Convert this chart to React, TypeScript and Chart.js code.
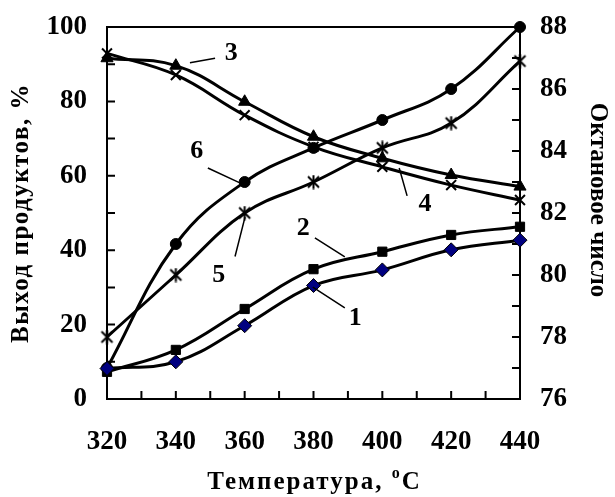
import React, { useEffect, useRef } from "react";
import { Chart, registerables } from "chart.js";

Chart.register(...registerables);

// ---- data ----
const temperatures = [320, 340, 360, 380, 400, 420, 440];
const yield1 = [8.2, 10, 19.7, 30.5, 34.7, 40.1, 42.7];
const yield2 = [7.3, 13.2, 24.2, 34.9, 39.6, 44.1, 46.3];
const yield3 = [91.6, 89.6, 79.9, 70.5, 64.7, 60.2, 57.1];
const yield4 = [92.9, 87.1, 76.3, 67.8, 62.4, 57.5, 53.5];
const octane5 = [78, 80, 82, 83, 84.1, 84.9, 86.9];
const octane6 = [77, 81, 83, 84.1, 85, 86, 88];

const yieldTicks = [0, 20, 40, 60, 80, 100];
const octaneTicks = [76, 78, 80, 82, 84, 86, 88];
const tempTicks = [320, 340, 360, 380, 400, 420, 440];

const curveLabels = ["1", "2", "3", "4", "5", "6"];
const labelAt = [
  [392.1, 21.8],
  [377, 46],
  [356.1, 92.9],
  [412.4, 52.4],
  [352.5, 33.3],
  [346.1, 66.7],
];
const leaderFrom = [
  [389.1, 24.5],
  [380.4, 43.3],
  [344.1, 90.4],
  [407.2, 54.6],
  [357.2, 38.3],
  [349.3, 62.1],
];
const leaderTo = [
  [379.8, 30.1],
  [389.1, 38.2],
  [351.4, 91.6],
  [404.9, 62.1],
  [360.1, 48.9],
  [358.6, 58.1],
];

const xTitle = "Температура, ";
const yTitle = "Выход продуктов, %";
const y2Title = "Октановое число";

const FONT = "'Liberation Serif', 'Times New Roman', serif";

function makeStar(): HTMLCanvasElement {
  const c = document.createElement("canvas");
  c.width = 15;
  c.height = 15;
  const g = c.getContext("2d")!;
  g.strokeStyle = "#000";
  g.lineWidth = 2;
  g.beginPath();
  g.moveTo(2, 2);
  g.lineTo(13, 13);
  g.moveTo(13, 2);
  g.lineTo(2, 13);
  g.moveTo(7.5, 0.5);
  g.lineTo(7.5, 14.5);
  g.stroke();
  return c;
}

const pts = (vals: number[]) => temperatures.map((t, i) => ({ x: t, y: vals[i] }));

export default function App() {
  const ref = useRef<HTMLCanvasElement | null>(null);

  useEffect(() => {
    document.body.style.margin = "0";
    const canvas = ref.current!;
    const star = makeStar();

    const decor = {
      id: "decor",
      beforeDatasetsDraw(chart: any) {
        const { ctx, chartArea: a, scales } = chart;
        const x = scales.x;
        const y = scales.y;
        const y1 = scales.y1;
        ctx.save();
        ctx.strokeStyle = "#000";
        ctx.lineWidth = 2;
        ctx.strokeRect(a.left, a.top, a.right - a.left, a.bottom - a.top);
        const tl = 8;
        ctx.beginPath();
        for (let v = 320; v <= 440; v += 10) {
          const px = x.getPixelForValue(v);
          ctx.moveTo(px, a.bottom);
          ctx.lineTo(px, a.bottom - tl);
        }
        for (let v = 0; v <= 100; v += 10) {
          const py = y.getPixelForValue(v);
          ctx.moveTo(a.left, py);
          ctx.lineTo(a.left + tl, py);
        }
        for (let v = 76; v <= 88; v += 1) {
          const py = y1.getPixelForValue(v);
          ctx.moveTo(a.right, py);
          ctx.lineTo(a.right - tl, py);
        }
        ctx.stroke();
        ctx.restore();
      },
      afterDraw(chart: any) {
        const { ctx, chartArea: a, scales } = chart;
        const x = scales.x;
        const y = scales.y;
        ctx.save();
        ctx.fillStyle = "#000";
        ctx.strokeStyle = "#000";
        // leader lines + curve numbers
        ctx.lineWidth = 1.5;
        ctx.beginPath();
        for (let i = 0; i < curveLabels.length; i++) {
          ctx.moveTo(x.getPixelForValue(leaderFrom[i][0]), y.getPixelForValue(leaderFrom[i][1]));
          ctx.lineTo(x.getPixelForValue(leaderTo[i][0]), y.getPixelForValue(leaderTo[i][1]));
        }
        ctx.stroke();
        ctx.font = `bold 26px ${FONT}`;
        ctx.textAlign = "center";
        ctx.textBaseline = "middle";
        for (let i = 0; i < curveLabels.length; i++) {
          ctx.fillText(curveLabels[i], x.getPixelForValue(labelAt[i][0]), y.getPixelForValue(labelAt[i][1]));
        }
        // x title
        const cx = (a.left + a.right) / 2;
        ctx.font = `bold 25px ${FONT}`;
        (ctx as any).letterSpacing = "2px";
        const w1 = ctx.measureText(xTitle).width;
        (ctx as any).letterSpacing = "0px";
        ctx.font = `bold 16px ${FONT}`;
        const wo = ctx.measureText("o").width;
        ctx.font = `bold 25px ${FONT}`;
        const wc = ctx.measureText("C").width;
        const total = w1 + wo + 2 + wc;
        let sx = cx - total / 2;
        const by = 489;
        ctx.textAlign = "left";
        ctx.textBaseline = "alphabetic";
        (ctx as any).letterSpacing = "2px";
        ctx.fillText(xTitle, sx, by);
        (ctx as any).letterSpacing = "0px";
        sx += w1;
        ctx.font = `bold 16px ${FONT}`;
        ctx.fillText("o", sx, by - 11);
        sx += wo + 2;
        ctx.font = `bold 25px ${FONT}`;
        ctx.fillText("C", sx, by);
        // left title
        const cy = (a.top + a.bottom) / 2;
        ctx.save();
        ctx.translate(22, cy);
        ctx.rotate(-Math.PI / 2);
        ctx.textAlign = "center";
        ctx.textBaseline = "middle";
        ctx.font = `bold 25px ${FONT}`;
        (ctx as any).letterSpacing = "1.5px";
        ctx.fillText(yTitle, 0, 0);
        ctx.restore();
        // right title
        ctx.save();
        ctx.translate(597, 200);
        ctx.rotate(Math.PI / 2);
        ctx.textAlign = "center";
        ctx.textBaseline = "middle";
        ctx.font = `bold 25px ${FONT}`;
        ctx.fillText(y2Title, 0, 0);
        ctx.restore();
        ctx.restore();
      },
    };

    const common = {
      borderColor: "#000",
      borderWidth: 3,
      tension: 0.4,
      pointBorderColor: "#000",
      pointBackgroundColor: "#000",
      clip: false as any,
    };

    const tickFont = { family: FONT, size: 27, weight: "bold" };
    const fitVertical = (w: number) => (s: any) => {
      s.width = w;
      s.paddingTop = 0;
      s.paddingBottom = 0;
    };

    const chart = new Chart(canvas, {
      type: "line",
      data: {
        datasets: [
          { ...common, label: "1", data: pts(yield1), yAxisID: "y", pointStyle: "rectRot", pointRadius: 7, pointBorderWidth: 1, pointBackgroundColor: "#000080" },
          { ...common, label: "2", data: pts(yield2), yAxisID: "y", pointStyle: "rect", pointRadius: 6.5, pointBorderWidth: 1 },
          { ...common, label: "3", data: pts(yield3), yAxisID: "y", pointStyle: "triangle", pointRadius: 7, pointBorderWidth: 1 },
          { ...common, label: "4", data: pts(yield4), yAxisID: "y", pointStyle: "crossRot", pointRadius: 7, pointBorderWidth: 2 },
          { ...common, label: "5", data: pts(octane5), yAxisID: "y1", pointStyle: star as any, pointRadius: 7 },
          { ...common, label: "6", data: pts(octane6), yAxisID: "y1", pointStyle: "circle", pointRadius: 5.5, pointBorderWidth: 1 },
        ],
      },
      options: {
        responsive: false,
        animation: false,
        devicePixelRatio: 1,
        layout: { padding: { top: 27, left: 0, right: 0, bottom: 0 } },
        plugins: { legend: { display: false }, tooltip: { enabled: false } },
        scales: {
          x: {
            type: "linear", min: 320, max: 440,
            afterBuildTicks: (s: any) => { s.ticks = tempTicks.map((v) => ({ value: v })); },
            afterFit: (s: any) => { s.height = 98; s.paddingLeft = 0; s.paddingRight = 0; },
            ticks: { color: "#000", font: tickFont, padding: 27, maxRotation: 0 },
            grid: { display: false, drawTicks: false },
            border: { display: false },
          },
          y: {
            position: "left", min: 0, max: 100,
            afterBuildTicks: (s: any) => { s.ticks = yieldTicks.map((v) => ({ value: v })); },
            afterFit: fitVertical(107),
            ticks: { color: "#000", font: tickFont, padding: 20 },
            grid: { display: false, drawTicks: false },
            border: { display: false },
          },
          y1: {
            position: "right", min: 76, max: 88,
            afterBuildTicks: (s: any) => { s.ticks = octaneTicks.map((v) => ({ value: v })); },
            afterFit: fitVertical(95),
            ticks: { color: "#000", font: tickFont, padding: 20 },
            grid: { display: false, drawTicks: false },
            border: { display: false },
          },
        },
      } as any,
      plugins: [decor],
    });
    return () => chart.destroy();
  }, []);

  return <canvas ref={ref} width={615} height={497} style={{ display: "block" }} />;
}
